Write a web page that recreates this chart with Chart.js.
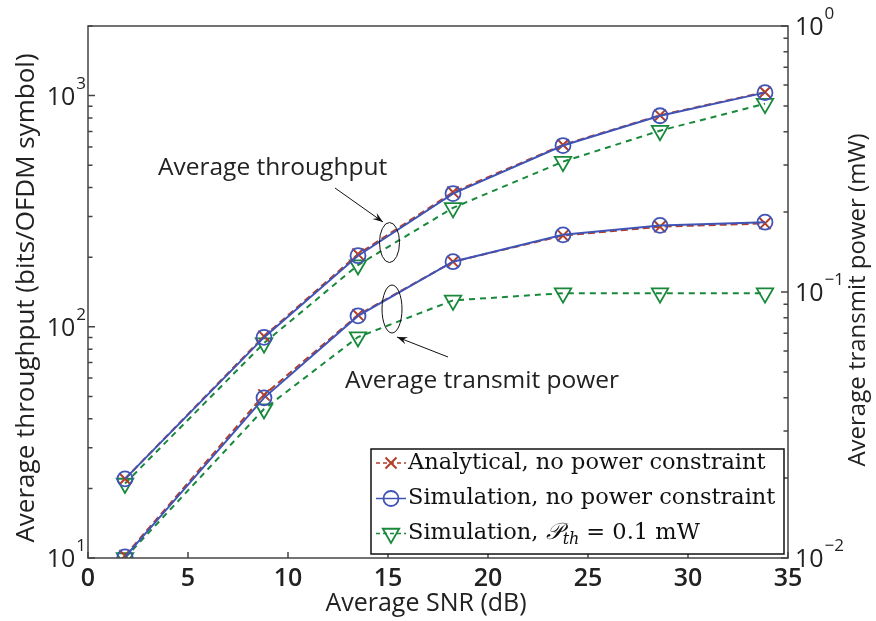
<!DOCTYPE html>
<html>
<head>
<meta charset="utf-8">
<script src="https://cdn.jsdelivr.net/npm/chart.js@4.4.0/dist/chart.umd.min.js"></script>
<style>
  html, body { margin: 0; padding: 0; background: #fff; }
</style>
</head>
<body>
<canvas id="chart" width="876" height="621"></canvas>
<script>
// SNR points (dB)
const snr = [1.85, 8.8, 13.5, 18.25, 23.75, 28.6, 33.85];

// throughput, bits/OFDM symbol (left axis)
const thrAnalytical = [22, 91, 206, 382, 612, 822, 1035];
const thrSim        = [22, 90, 203, 377, 608, 818, 1030];
const thrPth        = [21, 85, 185, 327, 518, 705, 923];

// transmit power, mW (right axis)
const pwrAnalytical = [0.0102, 0.041, 0.082, 0.130, 0.163, 0.176, 0.181];
const pwrSim        = [0.0101, 0.040, 0.0813, 0.130, 0.164, 0.178, 0.183];
const pwrPth        = [0.0100, 0.0363, 0.0677, 0.093, 0.099, 0.099, 0.099];

const xTicks = [0, 5, 10, 15, 20, 25, 30, 35];
const leftTicks = [10, 100, 1000];
const rightTicks = [0.01, 0.1, 1];

const legendLabels = [
  'Analytical, no power constraint',
  'Simulation, no power constraint',
  'Simulation, '
];

const RED = '#b23f2a', BLUE = '#3f54b6', GREEN = '#18893b';
const SANS = '"Open Sans", "DejaVu Sans", sans-serif';
const SERIF = '"DejaVu Serif", "Liberation Serif", serif';

const pts = arr => arr.map((v, i) => ({ x: snr[i], y: v }));

function series(data, axis, kind) {
  const base = { data: pts(data), yAxisID: axis, fill: false, tension: 0, borderWidth: 2 };
  if (kind === 'ana') return Object.assign(base, {
    borderColor: RED, borderDash: [7, 4], pointStyle: 'crossRot', pointRadius: 8,
    pointBorderColor: RED, pointBorderWidth: 2, order: 2
  });
  if (kind === 'sim') return Object.assign(base, {
    borderColor: BLUE, pointStyle: 'circle', pointRadius: 7.5, pointBackgroundColor: 'rgba(0,0,0,0)',
    pointBorderColor: BLUE, pointBorderWidth: 1.8, order: 1
  });
  return Object.assign(base, {
    borderColor: GREEN, borderDash: [6, 5], pointStyle: 'triangle', pointRotation: 180, pointRadius: 9.5,
    pointBackgroundColor: 'rgba(0,0,0,0)', pointBorderColor: GREEN, pointBorderWidth: 1.8, order: 3
  });
}

function sup(ctx, base, exp, x, y, align) {
  // "10" with a raised exponent; x is the right edge (align 'right') or the left edge
  ctx.font = '25px ' + SANS;
  const wb = ctx.measureText(base).width;
  ctx.font = '17px ' + SANS;
  const we = ctx.measureText(exp).width;
  const x0 = align === 'right' ? x - wb - we - 1 : x;
  ctx.textAlign = 'left';
  ctx.textBaseline = 'alphabetic';
  ctx.font = '25px ' + SANS;
  ctx.fillText(base, x0, y + 9);
  ctx.font = '17px ' + SANS;
  ctx.fillText(exp, x0 + wb + 1, y - 7);
}

function arrow(ctx, x1, y1, x2, y2) {
  ctx.beginPath(); ctx.moveTo(x1, y1); ctx.lineTo(x2, y2); ctx.stroke();
  const a = Math.atan2(y2 - y1, x2 - x1), L = 11, w = 0.35;
  ctx.beginPath();
  ctx.moveTo(x2, y2);
  ctx.lineTo(x2 - L * Math.cos(a - w), y2 - L * Math.sin(a - w));
  ctx.lineTo(x2 - L * 0.6 * Math.cos(a), y2 - L * 0.6 * Math.sin(a));
  ctx.lineTo(x2 - L * Math.cos(a + w), y2 - L * Math.sin(a + w));
  ctx.closePath(); ctx.fill();
}

function marker(ctx, kind, x, y) {
  ctx.save();
  ctx.lineWidth = kind === 'ana' ? 2 : 1.8;
  ctx.beginPath();
  if (kind === 'ana') {
    ctx.strokeStyle = RED; const d = 5.5;
    ctx.moveTo(x - d, y - d); ctx.lineTo(x + d, y + d);
    ctx.moveTo(x + d, y - d); ctx.lineTo(x - d, y + d);
  } else if (kind === 'sim') {
    ctx.strokeStyle = BLUE; ctx.arc(x, y, 7.5, 0, Math.PI * 2);
  } else {
    ctx.strokeStyle = GREEN; const r = 9.5;
    ctx.moveTo(x, y + r); ctx.lineTo(x - r * 0.866, y - r / 2); ctx.lineTo(x + r * 0.866, y - r / 2); ctx.closePath();
  }
  ctx.stroke();
  ctx.restore();
}

const decor = {
  id: 'decor',
  afterDraw(chart) {
    const ctx = chart.ctx, a = chart.chartArea;
    const sx = chart.scales.x, sl = chart.scales.y, sr = chart.scales.y1;
    ctx.save();

    // box
    ctx.strokeStyle = '#444'; ctx.lineWidth = 1.5;
    ctx.strokeRect(a.left, a.top, a.right - a.left, a.bottom - a.top);

    // inward ticks
    ctx.beginPath();
    xTicks.forEach(v => { const p = sx.getPixelForValue(v); ctx.moveTo(p, a.bottom); ctx.lineTo(p, a.bottom - 6); });
    [[sl, a.left, 1], [sr, a.right, -1]].forEach(([s, x0, dir]) => {
      let dec = s.min;
      while (dec <= s.max * 1.0001) {
        for (let m = 1; m <= 9; m++) {
          const v = dec * m;
          if (v < s.min * 0.999 || v > s.max * 1.001) continue;
          const p = s.getPixelForValue(v), len = m === 1 ? 7 : 4.5;
          ctx.moveTo(x0, p); ctx.lineTo(x0 + dir * len, p);
        }
        dec *= 10;
      }
    });
    ctx.stroke();

    // y tick labels with exponents
    ctx.fillStyle = '#222';
    leftTicks.forEach(v => sup(ctx, '10', String(Math.round(Math.log10(v))), a.left - 2, sl.getPixelForValue(v), 'right'));
    rightTicks.forEach(v => {
      const e = Math.round(Math.log10(v));
      sup(ctx, '10', e < 0 ? '\u2212' + (-e) : String(e), a.right + 7, sr.getPixelForValue(v), 'left');
    });

    // axis titles
    ctx.textAlign = 'center'; ctx.textBaseline = 'middle';
    ctx.font = '25px ' + SANS;
    ctx.fillText('Average SNR (dB)', 426, 604);
    ctx.font = '26px ' + SANS;
    ctx.save(); ctx.translate(27, 298); ctx.rotate(-Math.PI / 2);
    ctx.fillText('Average throughput (bits/OFDM symbol)', 0, 0); ctx.restore();
    ctx.font = '24px ' + SANS;
    ctx.save(); ctx.translate(858, 300); ctx.rotate(-Math.PI / 2);
    ctx.fillText('Average transmit power (mW)', 0, 0); ctx.restore();

    // annotations
    ctx.font = '24.5px ' + SANS; ctx.textAlign = 'left'; ctx.textBaseline = 'alphabetic';
    ctx.fillText('Average throughput', 158, 175);
    ctx.fillText('Average transmit power', 345, 388);
    ctx.strokeStyle = '#111'; ctx.fillStyle = '#111'; ctx.lineWidth = 1;
    ctx.beginPath(); ctx.ellipse(389.5, 242.5, 10, 20, 0, 0, Math.PI * 2); ctx.stroke();
    ctx.beginPath(); ctx.ellipse(392, 309, 10, 24, 0, 0, Math.PI * 2); ctx.stroke();
    arrow(ctx, 335, 188, 383, 222);
    arrow(ctx, 448, 357, 397, 337);

    // legend
    const lx = 371, ly = 449, lw = 413, lh = 105;
    ctx.fillStyle = '#fff'; ctx.fillRect(lx, ly, lw, lh);
    ctx.strokeStyle = '#111'; ctx.lineWidth = 1.5; ctx.strokeRect(lx, ly, lw, lh);
    const kinds = ['ana', 'sim', 'pth'], cols = [RED, BLUE, GREEN], dashes = [[4, 3], [], [4, 3]];
    const rows = [463, 498.5, 533.5];
    const LF = '22.5px ' + SERIF;
    kinds.forEach((k, i) => {
      const y = rows[i];
      ctx.save(); ctx.strokeStyle = cols[i]; ctx.lineWidth = 1.5; ctx.setLineDash(dashes[i]);
      ctx.beginPath(); ctx.moveTo(376, y); ctx.lineTo(406, y); ctx.stroke(); ctx.restore();
      marker(ctx, k, 391, y);
      ctx.fillStyle = '#111'; ctx.font = LF; ctx.textBaseline = 'middle'; ctx.textAlign = 'left';
      ctx.fillText(legendLabels[i], 408, y);
    });
    // math part of the third entry
    ctx.font = LF;
    let tx = 408 + ctx.measureText(legendLabels[2]).width;
    const y3 = rows[2];
    ctx.font = 'italic 23px ' + SERIF; ctx.fillText('\uD835\uDCAB', tx, y3);
    tx += ctx.measureText('\uD835\uDCAB').width;
    ctx.font = 'italic 16px ' + SERIF; ctx.fillText('th', tx, y3 + 6);
    tx += ctx.measureText('th').width + 7;
    ctx.font = LF; ctx.fillText('= 0.1 mW', tx, y3);

    ctx.restore();
  }
};

new Chart(document.getElementById('chart'), {
  type: 'line',
  data: {
    datasets: [
      series(thrAnalytical, 'y', 'ana'), series(thrSim, 'y', 'sim'), series(thrPth, 'y', 'pth'),
      series(pwrAnalytical, 'y1', 'ana'), series(pwrSim, 'y1', 'sim'), series(pwrPth, 'y1', 'pth')
    ]
  },
  options: {
    responsive: false,
    animation: false,
    layout: { padding: { top: 26, left: 0, right: 0, bottom: 0 } },
    plugins: { legend: { display: false }, tooltip: { enabled: false } },
    scales: {
      x: {
        type: 'linear', min: 0, max: 35,
        ticks: { stepSize: 5, font: { size: 25, weight: '600', family: SANS }, color: '#222', padding: 6 },
        grid: { display: false, drawTicks: false },
        border: { display: false },
        afterFit: s => { s.height = 63; }
      },
      y: {
        type: 'logarithmic', position: 'left', min: 10, max: 2000,
        ticks: { display: false },
        grid: { display: false },
        border: { display: false },
        afterBuildTicks: s => { s.ticks = leftTicks.map(v => ({ value: v })); },
        afterFit: s => { s.width = 88; }
      },
      y1: {
        type: 'logarithmic', position: 'right', min: 0.01, max: 1,
        ticks: { display: false },
        grid: { display: false },
        border: { display: false },
        afterBuildTicks: s => { s.ticks = rightTicks.map(v => ({ value: v })); },
        afterFit: s => { s.width = 88; }
      }
    }
  },
  plugins: [decor]
});
</script>
</body>
</html>
